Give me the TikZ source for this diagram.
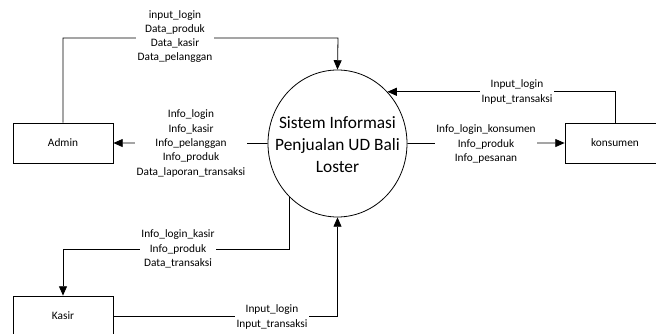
\documentclass[tikz,border=0pt]{standalone}
\usepackage{fontspec}
\setmainfont{Carlito}
\usetikzlibrary{arrows.meta,shapes.geometric}
\begin{document}
\begin{tikzpicture}[x=0.75pt,y=-0.75pt,
  every node/.style={font=\fontsize{8.5}{10.7}\selectfont},
  entity/.style={draw,line width=0.6pt,minimum width=75pt,minimum height=30pt,inner sep=0pt},
  proc/.style={draw,ellipse,line width=0.6pt,minimum width=104.25pt,minimum height=110.25pt,inner sep=0pt},
  proctext/.style={align=center,inner sep=0pt,font=\fontsize{13}{16.5}\selectfont},
  flow/.style={line width=0.6pt,-{Triangle[length=7pt,width=6pt]}},
  lbl/.style={fill=white,align=center,inner xsep=1pt,inner ysep=0.5pt}]
\useasboundingbox (0,0) rectangle (656,334);
\clip (0,0) rectangle (656,334);
\node[proc] (sys) at (337.5,143.5) {};
\node[proctext] (systxt) at (337.5,145) {Sistem Informasi\\Penjualan UD Bali\\Loster};
\node[entity] (admin) at (63,143) {Admin};
\node[entity] (kasir) at (63,316) {Kasir};
\node[entity] (kons) at (615,143) {konsumen};
\coordinate (atop) at (338,38);
\coordinate (kturn) at (63,249);
% connectors
\draw[flow] (admin.north) |- (atop) -- (sys.north);
\draw[flow] (sys.west) -- (admin.east);
\draw[flow] (sys.228.4) |- (kturn) -- (kasir.north);
\draw[flow] (kasir.east) -| (sys.south);
\draw[flow] (sys.east) -- (kons.west);
\draw[flow] (kons.north) |- (sys.46.1);
% labels
\node[lbl] (l1) at (175,36.5) {input\_login\\Data\_produk\\Data\_kasir\\Data\_pelanggan};
\node[lbl] (l2) at (191,143.5) {Info\_login\\Info\_kasir\\Info\_pelanggan\\Info\_produk\\Data\_laporan\_transaksi};
\node[lbl] (l3) at (178,249) {Info\_login\_kasir\\Info\_produk\\Data\_transaksi};
\node[lbl] (l4) at (272,317) {Input\_login\\Input\_transaksi};
\node[lbl] (l5) at (486,144) {Info\_login\_konsumen\\Info\_produk\\Info\_pesanan};
\node[lbl] (l6) at (517,92) {Input\_login\\Input\_transaksi};
\end{tikzpicture}
\end{document}
